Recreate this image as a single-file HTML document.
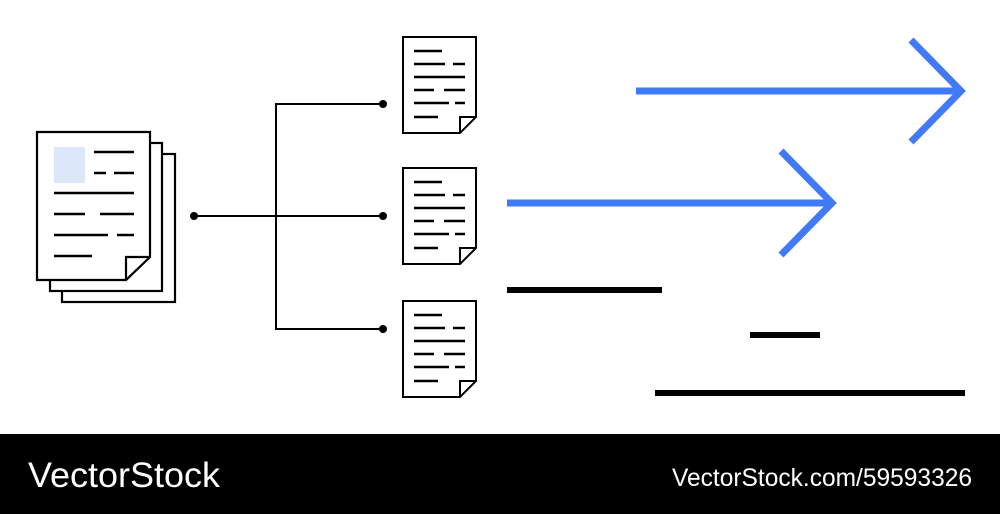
<!DOCTYPE html>
<html><head><meta charset="utf-8"><style>
html,body{margin:0;padding:0;background:#fff;width:1000px;height:514px;overflow:hidden}
svg{display:block}
</style></head><body>
<svg width="1000" height="514" viewBox="0 0 1000 514" xmlns="http://www.w3.org/2000/svg">
<defs>
<g id="doc" fill="none" stroke="#000">
  <path d="M403,37 H476 V117 L460,133 H403 Z" fill="#fff" stroke-width="2"/>
  <path d="M476,117 H460 V133" stroke-width="2"/>
  <g stroke-width="2.5">
    <line x1="414" y1="51" x2="442" y2="51"/>
    <line x1="414" y1="64" x2="445" y2="64"/><line x1="453" y1="64" x2="465" y2="64"/>
    <line x1="414" y1="77" x2="465" y2="77"/>
    <line x1="414" y1="90" x2="434" y2="90"/><line x1="444" y1="90" x2="465" y2="90"/>
    <line x1="414" y1="103" x2="449" y2="103"/><line x1="455" y1="103" x2="465" y2="103"/>
    <line x1="414" y1="117" x2="438" y2="117"/>
  </g>
</g>
</defs>
<rect width="1000" height="514" fill="#fff"/>
<!-- stacked doc -->
<g fill="#fff" stroke="#000" stroke-width="2.2">
  <rect x="62" y="154" width="113" height="148"/>
  <rect x="50" y="143" width="112" height="148"/>
  <path d="M37,132 H150 V257 L126,280 H37 Z"/>
  <path d="M150,257 H126 V280" fill="none"/>
</g>
<rect x="54" y="147" width="31" height="36" fill="#dde7fa"/>
<g stroke="#000" stroke-width="2.5">
  <line x1="94" y1="152" x2="134" y2="152"/>
  <line x1="94" y1="173" x2="106" y2="173"/><line x1="114" y1="173" x2="134" y2="173"/>
  <line x1="54" y1="193" x2="134" y2="193"/>
  <line x1="54" y1="214" x2="85" y2="214"/><line x1="100" y1="214" x2="134" y2="214"/>
  <line x1="54" y1="235" x2="108" y2="235"/><line x1="117" y1="235" x2="134" y2="235"/>
  <line x1="54" y1="256" x2="92" y2="256"/>
</g>
<!-- connectors -->
<g stroke="#000" stroke-width="2" fill="none">
  <line x1="194" y1="216" x2="383" y2="216"/>
  <path d="M383,104 H276 V329 H383"/>
</g>
<g fill="#000">
  <circle cx="194" cy="216" r="4"/>
  <circle cx="383" cy="104" r="4"/>
  <circle cx="383" cy="216" r="4"/>
  <circle cx="383" cy="329" r="4"/>
</g>
<use href="#doc"/>
<use href="#doc" transform="translate(0,131)"/>
<use href="#doc" transform="translate(0,264)"/>
<!-- arrows -->
<g stroke="#4279f5" stroke-width="7" fill="none">
  <line x1="636" y1="91" x2="960" y2="91"/>
  <path d="M911,40 L961,91 L911,142"/>
  <line x1="507" y1="203" x2="831" y2="203"/>
  <path d="M781,151 L832,203 L781,255"/>
</g>
<g fill="#000">
  <rect x="507" y="287" width="155" height="6"/>
  <rect x="750" y="332" width="70" height="6"/>
  <rect x="655" y="390" width="310" height="6"/>
</g>
<!-- footer -->
<rect x="0" y="434" width="1000" height="80" fill="#000"/>
<text x="28" y="487" fill="#fff" font-family="Liberation Sans, sans-serif" font-size="35" textLength="192" lengthAdjust="spacingAndGlyphs">VectorStock</text>
<text x="672" y="486" fill="#fff" font-family="Liberation Sans, sans-serif" font-size="25" textLength="300" lengthAdjust="spacingAndGlyphs">VectorStock.com/59593326</text>
</svg>
</body></html>
